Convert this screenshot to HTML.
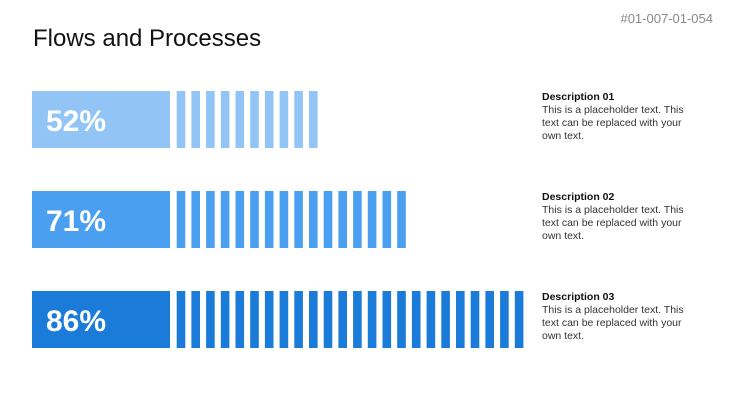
<!DOCTYPE html>
<html><head><meta charset="utf-8"><style>
body{margin:0;width:731px;height:411px;background:#fff;position:relative;overflow:hidden;font-family:"Liberation Sans",sans-serif}
.t{position:absolute;left:33px;top:25px;font-size:24px;color:#111}
.id{position:absolute;right:18px;top:11px;font-size:13px;color:#888}
.d{position:absolute;left:542px;width:152px;font-size:10.5px;line-height:13px;color:#333}
.d b{display:block;color:#111;font-size:10.5px}
</style></head><body>
<div class="t">Flows and Processes</div>
<div class="id">#01-007-01-054</div>
<svg id="c" width="731" height="411" style="position:absolute;left:0;top:0"></svg>
<div class="d" style="top:91px"><b>Description 01</b>This is a placeholder text. This text can be replaced with your own text.</div>
<div class="d" style="top:191px"><b>Description 02</b>This is a placeholder text. This text can be replaced with your own text.</div>
<div class="d" style="top:291px"><b>Description 03</b>This is a placeholder text. This text can be replaced with your own text.</div>
<script>
const percents=[52,71,86];
const stripeCounts=[10,16,24];
const colors=["#92c5f6","#4a9ff0","#1a7bd9"];
const NS="http://www.w3.org/2000/svg";
const svg=document.getElementById('c');
function rowY(i){return 91+i*100;}
function stripeX(k){return 176.7+k*14.7;}
percents.forEach((p,i)=>{
  const y=rowY(i);
  const r=document.createElementNS(NS,'rect');
  r.setAttribute('x',32);r.setAttribute('y',y);r.setAttribute('width',138);r.setAttribute('height',57);r.setAttribute('fill',colors[i]);
  
  
  svg.appendChild(r);
  const t=document.createElementNS(NS,'text');
  t.setAttribute('x',46);t.setAttribute('y',y+40);t.setAttribute('fill','#fff');t.setAttribute('font-size','30');t.setAttribute('font-weight','bold');t.setAttribute('font-family','Liberation Sans, sans-serif');
  t.textContent=p+'%';
  
  
  svg.appendChild(t);
  for(let k=0;k<stripeCounts[i];k++){
    const s=document.createElementNS(NS,'rect');
    s.setAttribute('x',stripeX(k));s.setAttribute('y',y);s.setAttribute('width',8.6);s.setAttribute('height',57);s.setAttribute('fill',colors[i]);
    
    
    svg.appendChild(s);
  }
});
</script>
</body></html>
